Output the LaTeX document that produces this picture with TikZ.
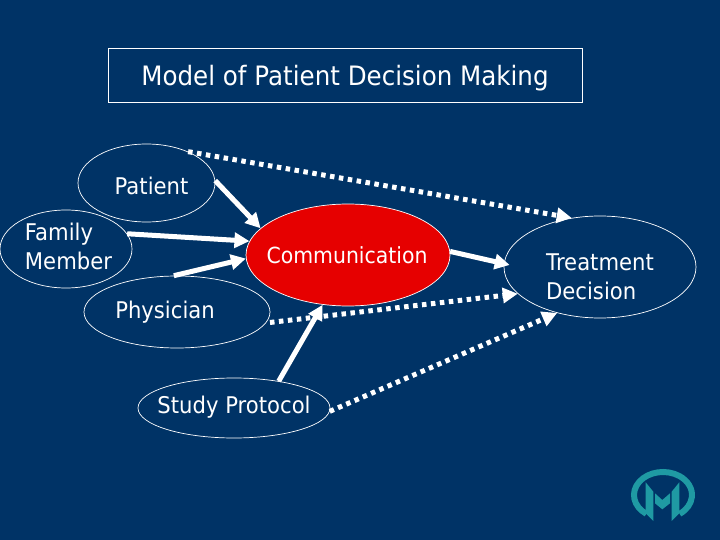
\documentclass[tikz,border=0pt]{standalone}
\usepackage{fontspec}
\setmainfont{DejaVu Sans}[FakeStretch=0.92]
\usepackage{xcolor}
\usetikzlibrary{arrows.meta,shapes.geometric}
\definecolor{navy}{HTML}{003366}
\definecolor{commred}{HTML}{E60000}
\definecolor{teal}{HTML}{1F9AA3}
\newcommand{\oneline}[3][0pt]{\makebox[0pt]{\hspace*{#1}\smash{\raisebox{#2}{#3}}}}
\newcommand{\twoline}[4][0pt]{\makebox[0pt]{\hspace*{#1}\smash{\raisebox{#2}{\begin{tabular}[t]{@{}l@{}}#3\\#4\end{tabular}}}}}
\tikzset{
  oval/.style={ellipse,draw=white,line width=0.7pt,text=white,inner sep=0pt,font=\fontsize{23}{29}\selectfont},
  arrow/.style={-{Triangle[length=15pt,width=15pt]},line width=5pt,draw=white},
  dotarrow/.style={-{Triangle[length=15pt,width=15pt]},line width=5pt,draw=white,dash pattern=on 4.5pt off 4.5pt}
}
\begin{document}
\begin{tikzpicture}[x=1pt,y=-1pt]
\fill[navy] (0,0) rectangle (720,540);
\useasboundingbox (0,0) rectangle (720,540);
\node[draw=white,line width=0.7pt,text=white,minimum width=474pt,minimum height=54pt,inner sep=0pt,font=\fontsize{26.7}{32}\selectfont] (title) at (345,75) {\oneline{-11pt}{Model of Patient Decision Making}};
\node[oval,minimum width=137pt,minimum height=78pt] (patient) at (146.5,183) {\oneline[10pt]{-12pt}{Patient}};
\node[oval,minimum width=132pt,minimum height=78pt] (family) at (66,249) {\twoline[5pt]{9pt}{Family}{Member}};
\node[oval,minimum width=186pt,minimum height=72pt] (physician) at (177,312) {\oneline[-24pt]{-6pt}{Physician}};
\node[oval,fill=commred,minimum width=204pt,minimum height=102pt] (comm) at (348,255) {\oneline[-2pt]{-8pt}{\fontsize{22.2}{29}\selectfont Communication}};
\node[oval,minimum width=192pt,minimum height=102pt] (treatment) at (600,267) {\twoline{-3pt}{Treatment}{Decision}};
\node[oval,minimum width=192pt,minimum height=60pt] (protocol) at (234,408) {\oneline{-5pt}{Study Protocol}};
\draw[arrow] (patient.2)--(comm.163);
\draw[arrow] (family.14)--(comm.172);
\draw[arrow] (physician.95)--(comm.182);
\draw[arrow,shorten >=-6pt] (comm.2)--(treatment.178);
\draw[arrow] (protocol.31)--(comm.243);
\draw[dotarrow] (patient.37)--(treatment.120);
\draw[dotarrow,shorten <=4pt] (physician.-7)--(treatment.198);
\draw[dotarrow] (protocol.-2)--(treatment.227);
% logo
\draw[teal,line width=6pt] (663,495) ++(125:29 and 23) arc[start angle=125,end angle=415,x radius=29,y radius=23];
\fill[teal] (645.7,482.3)--(653.3,491.7)--(653.3,521)--(645.7,513.3)--cycle;
\fill[teal] (679.3,482.3)--(671.7,491.7)--(671.7,521)--(679.3,513.3)--cycle;
\fill[teal] (655,493.3)--(662.3,500)--(670,493.3)--(670,503.3)--(662.3,509.3)--(655,503.3)--cycle;
\end{tikzpicture}
\end{document}
